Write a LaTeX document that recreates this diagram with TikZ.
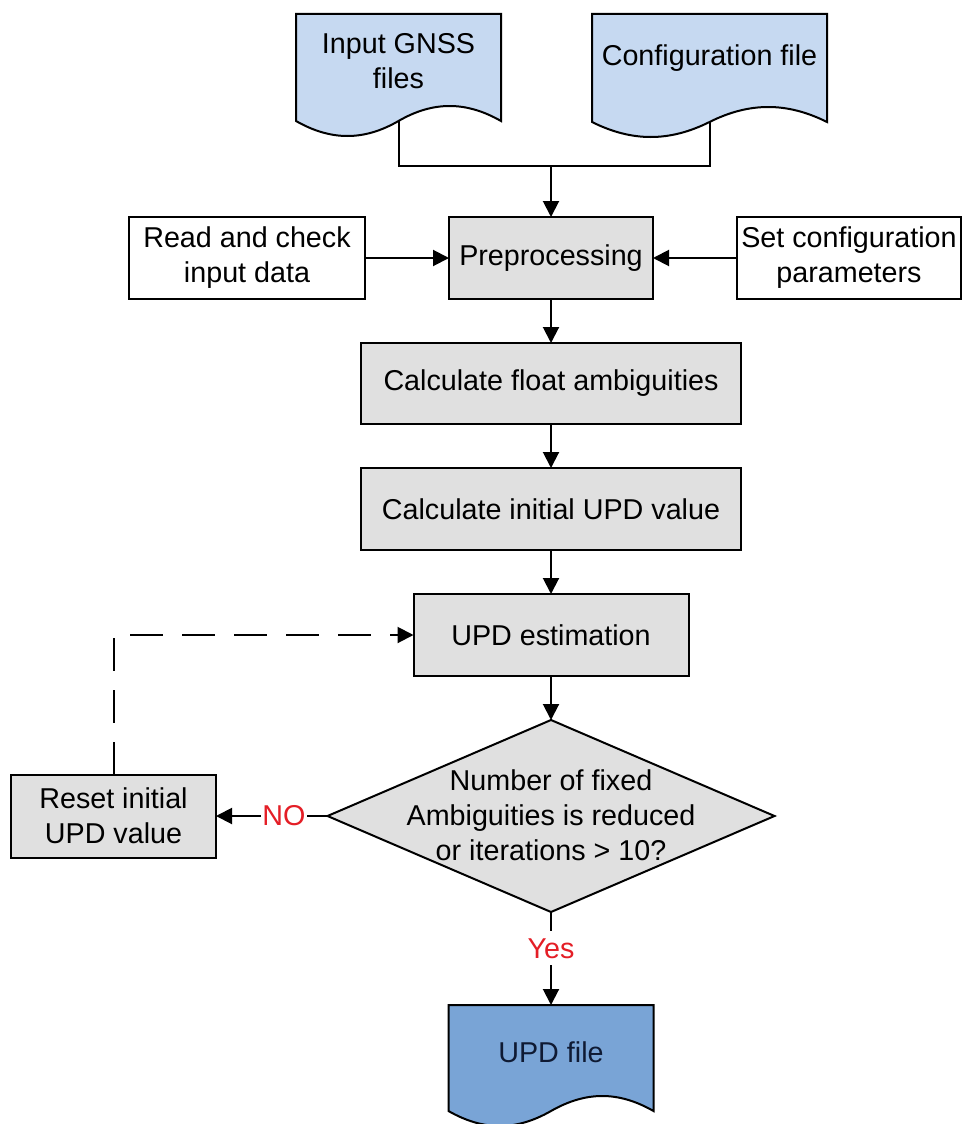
\documentclass[tikz,border=0pt]{standalone}
\usepackage{fontspec}
\setmainfont{Liberation Sans}
\usetikzlibrary{arrows.meta,shapes.geometric}
\definecolor{docblue}{HTML}{C6D9F1}
\definecolor{updblue}{HTML}{79A4D6}
\definecolor{boxgray}{HTML}{E0E0E0}
\definecolor{nored}{HTML}{E41E26}
\definecolor{navy}{HTML}{0F1A33}
\begin{document}
\begin{tikzpicture}[x=1pt,y=-1pt,line width=2pt,
  txt/.style={font=\fontsize{28.7}{35}\selectfont, align=center, inner sep=0pt},
  procbox/.style={draw, fill=boxgray, txt, minimum height=82pt, outer sep=0pt},
  inbox/.style={draw, fill=white, txt, minimum height=82pt, outer sep=0pt},
  conn/.style={-{Triangle[length=16pt,width=16pt]}},
  lbl/.style={txt, text=nored, fill=white}]
\useasboundingbox (0,0) rectangle (963,1124);
\fill[white] (0,0) rectangle (963,1124);

% document shapes
\path[draw, fill=docblue] (296,14) -- (501,14) -- (501,121)
  .. controls (466,101) and (433,101) .. (398.5,121)
  .. controls (364,141) and (331,141) .. (296,121) -- cycle;
\path[draw, fill=docblue] (592,14) -- (827,14) -- (827,122)
  .. controls (787,102) and (749.5,102) .. (709.5,122)
  .. controls (669.5,142) and (632,142) .. (592,122) -- cycle;
\path[draw, fill=updblue] (448.5,1005) -- (653.5,1005) -- (653.5,1111)
  .. controls (618.5,1091) and (586,1091) .. (551,1111)
  .. controls (516,1131) and (483.5,1131) .. (448.5,1111) -- cycle;

\node[txt] (gnss) at (398.5,61) {Input GNSS\\files};
\node[txt] (cfg) at (709.5,58) {Configuration file};
\node[txt, text=navy] (updfile) at (551,1052) {UPD file};
\coordinate (inbot) at (398.5,121);
\coordinate (cfgbot) at (709.5,122);
\coordinate (join) at (551,166);
\coordinate (updtop) at (551,1005);

% boxes
\node[inbox, minimum width=236pt] (read) at (247,258) {Read and check\\input data};
\node[procbox, minimum width=204pt] (prep) at (551,258) {Preprocessing};
\node[inbox, minimum width=224pt] (set) at (849,258) {Set configuration\\parameters};
\node[procbox, minimum width=380pt, minimum height=81pt] (calcf) at (551,383.5) {Calculate float ambiguities};
\node[procbox, minimum width=380pt] (calci) at (551,509) {Calculate initial UPD value};
\node[procbox, minimum width=275pt] (updest) at (551,635) {UPD estimation};
\node[draw, fill=boxgray, diamond, minimum width=447pt, minimum height=192pt,
  inner sep=0pt, outer sep=0pt] (dec) at (551,816) {};
\node[txt] (dectxt) at (551,815) {Number of fixed\\Ambiguities is reduced\\or iterations > 10?};
\node[procbox, minimum width=205pt, minimum height=83pt] (reset) at (113.5,816) {Reset initial\\UPD value};

% connectors
\draw (inbot) |- (join) -| (cfgbot);
\draw[conn] (join) -- (prep.north);
\draw[conn] (read) -- (prep);
\draw[conn] (set) -- (prep);
\draw[conn] (prep) -- (calcf);
\draw[conn] (calcf) -- (calci);
\draw[conn] (calci) -- (updest);
\draw[conn] (updest) -- (dec.north);
\draw[conn] (dec.west) -- node[lbl, pos=0.39, inner xsep=1pt]{NO} (reset.east);
\draw[conn] (dec.south) -- node[lbl, pos=0.39, inner ysep=7pt]{Yes} (updtop);
\draw[conn, dash pattern=on 33pt off 19pt] (reset.north) |- (updest.west);
\end{tikzpicture}
\end{document}
